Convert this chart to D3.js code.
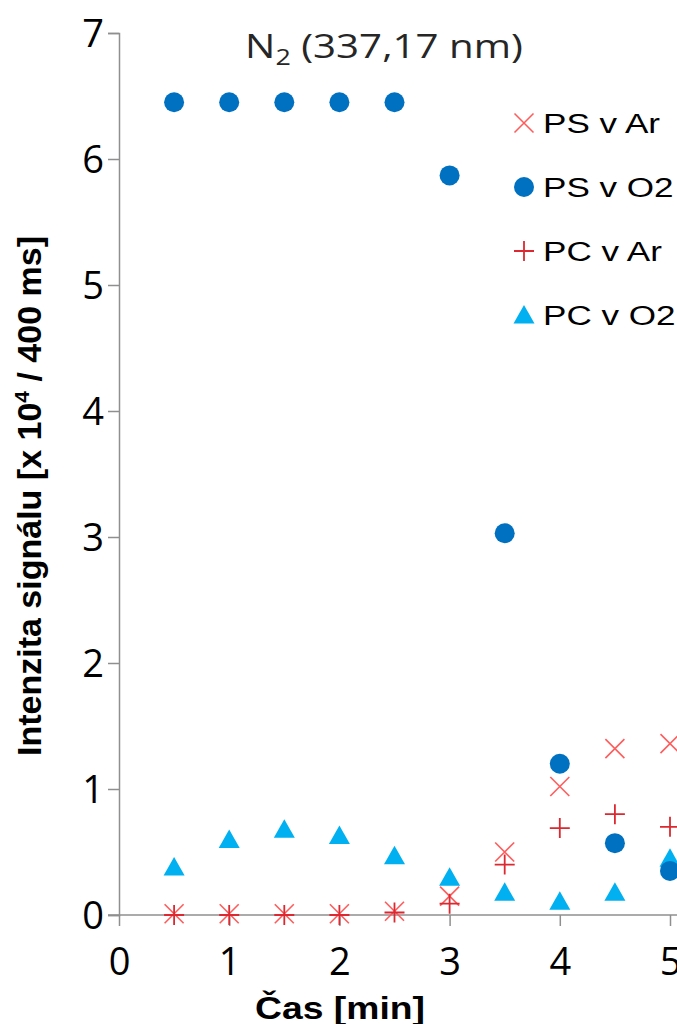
<!DOCTYPE html>
<html><head><meta charset="utf-8">
<script src="https://cdn.jsdelivr.net/npm/d3@7"></script>
<style>body{margin:0;background:#fff;overflow:hidden}svg{display:block}</style>
</head><body>
<svg id="c" width="677" height="1024"></svg>
<script>
const times = [0.5, 1, 1.5, 2, 2.5, 3, 3.5, 4, 4.5, 5];
const psAr = [0.01, 0.01, 0.01, 0.01, 0.03, 0.15, 0.50, 1.02, 1.32, 1.36];
const psO2 = [6.45, 6.45, 6.45, 6.45, 6.45, 5.87, 3.03, 1.20, 0.57, 0.35];
const pcAr = [0.0, 0.0, 0.0, 0.0, 0.02, 0.09, 0.40, 0.69, 0.80, 0.70];
const pcO2 = [0.38, 0.60, 0.68, 0.63, 0.47, 0.30, 0.18, 0.11, 0.18, 0.45];
const xTicks = [0, 1, 2, 3, 4, 5];
const yTicks = [0, 1, 2, 3, 4, 5, 6, 7];
const seriesNames = ["PS v Ar", "PS v O2", "PC v Ar", "PC v O2"];

const svg = d3.select("#c");
const x = d3.scaleLinear().domain([0, 5]).range([119, 670]);
const y = d3.scaleLinear().domain([0, 7]).range([915, 33]);
const axisColor = "#8f8f8f";
const tickFont = "'Open Sans', 'DejaVu Sans', sans-serif";
const arial = "'Liberation Sans', Arial, sans-serif";

// horizontally stretch a text element to a target width, keeping anchor x fixed
function fitWidth(el, targetW, ax) {
  const w = el.node().getBBox().width;
  const s = targetW / w;
  el.attr("transform", `translate(${ax},0) scale(${s},1) translate(${-ax},0)`);
  return s;
}

// y axis
const ya = svg.append("g").attr("transform", `translate(${x(0)},0)`)
  .call(d3.axisLeft(y).tickValues(yTicks).tickSize(11).tickPadding(4).tickFormat(d3.format("d")));
ya.select(".domain").attr("stroke", axisColor).attr("stroke-width", 1.5);
ya.selectAll(".tick line").attr("stroke", axisColor).attr("stroke-width", 1.5);
ya.selectAll(".tick text").attr("font-family", tickFont).attr("font-size", 38)
  .attr("fill", "#000").attr("dy", "0.36em");

// x axis (extends to the right edge)
svg.append("line").attr("x1", x(0) - 11).attr("x2", 677).attr("y1", y(0)).attr("y2", y(0))
  .attr("stroke", axisColor).attr("stroke-width", 1.5);
const xa = svg.append("g").attr("transform", `translate(0,${y(0)})`)
  .call(d3.axisBottom(x).tickValues(xTicks).tickSize(11).tickFormat(d3.format("d")));
xa.select(".domain").remove();
xa.selectAll(".tick line").attr("stroke", axisColor).attr("stroke-width", 1.5);
xa.selectAll(".tick text").attr("font-family", tickFont).attr("font-size", 38)
  .attr("fill", "#000").attr("y", 60).attr("dy", 0);

// title
const t = svg.append("text").attr("x", 384).attr("y", 58).attr("text-anchor", "middle")
  .attr("font-family", tickFont).attr("font-size", 33).attr("fill", "#262626");
t.append("tspan").text("N");
t.append("tspan").attr("font-size", 22).attr("dy", 7).text("2");
t.append("tspan").attr("dy", -7).text(" (337,17 nm)");
fitWidth(t, 278, 384);

// axis titles
const yt = svg.append("text").attr("transform", `translate(41,496) rotate(-90)`)
  .attr("text-anchor", "middle").attr("font-family", arial)
  .attr("font-weight", "bold").attr("font-size", 34).attr("fill", "#000");
yt.append("tspan").text("Intenzita signálu [x 10");
yt.append("tspan").attr("font-size", 21).attr("dy", -12).text("4");
yt.append("tspan").attr("dy", 12).text(" / 400 ms]");

const xt = svg.append("text").attr("x", 340).attr("y", 1019).attr("text-anchor", "middle")
  .attr("font-family", arial).attr("font-weight", "bold")
  .attr("font-size", 31).attr("fill", "#000").text("Čas [min]");
fitWidth(xt, 170, 340);

// markers
const colX = "#ff5c5c", colPlus = "#dc2830", colCirc = "#0070c0", colTri = "#00b0f0";
function drawX(g, cx, cy) {
  const s = 9.5;
  g.append("path").attr("d", `M${cx - s},${cy - s}L${cx + s},${cy + s}M${cx - s},${cy + s}L${cx + s},${cy - s}`)
    .attr("stroke", colX).attr("stroke-width", 1.6).attr("fill", "none");
}
function drawPlus(g, cx, cy) {
  const s = 10;
  g.append("path").attr("d", `M${cx - s},${cy}L${cx + s},${cy}M${cx},${cy - s}L${cx},${cy + s}`)
    .attr("stroke", colPlus).attr("stroke-width", 1.8).attr("fill", "none");
}
function drawCirc(g, cx, cy) {
  g.append("circle").attr("cx", cx).attr("cy", cy).attr("r", 10).attr("fill", colCirc);
}
function drawTri(g, cx, cy) {
  g.append("path").attr("d", `M${cx},${cy - 10}L${cx + 10.5},${cy + 8.5}L${cx - 10.5},${cy + 8.5}Z`)
    .attr("fill", colTri);
}

const plot = svg.append("g");
const gTri = plot.append("g"), gCirc = plot.append("g"), gX = plot.append("g"), gPlus = plot.append("g");
times.forEach((t, i) => drawTri(gTri, x(t), y(pcO2[i])));
times.forEach((t, i) => drawCirc(gCirc, x(t), y(psO2[i])));
times.forEach((t, i) => drawX(gX, x(t), y(psAr[i])));
times.forEach((t, i) => drawPlus(gPlus, x(t), y(pcAr[i])));

// legend
const drawers = [drawX, drawCirc, drawPlus, drawTri];
const leg = svg.append("g");
let legScale = null;
seriesNames.forEach((n, i) => {
  const ly = 123 + i * 64;
  drawers[i](leg, 524, ly);
  const tx = leg.append("text").attr("x", 543).attr("y", ly + 10)
    .attr("font-family", arial).attr("font-size", 28)
    .attr("fill", "#000").text(n);
  if (legScale === null) legScale = fitWidth(tx, 117, 543);
  else tx.attr("transform", `translate(543,0) scale(${legScale},1) translate(-543,0)`);
});
</script>
</body></html>
